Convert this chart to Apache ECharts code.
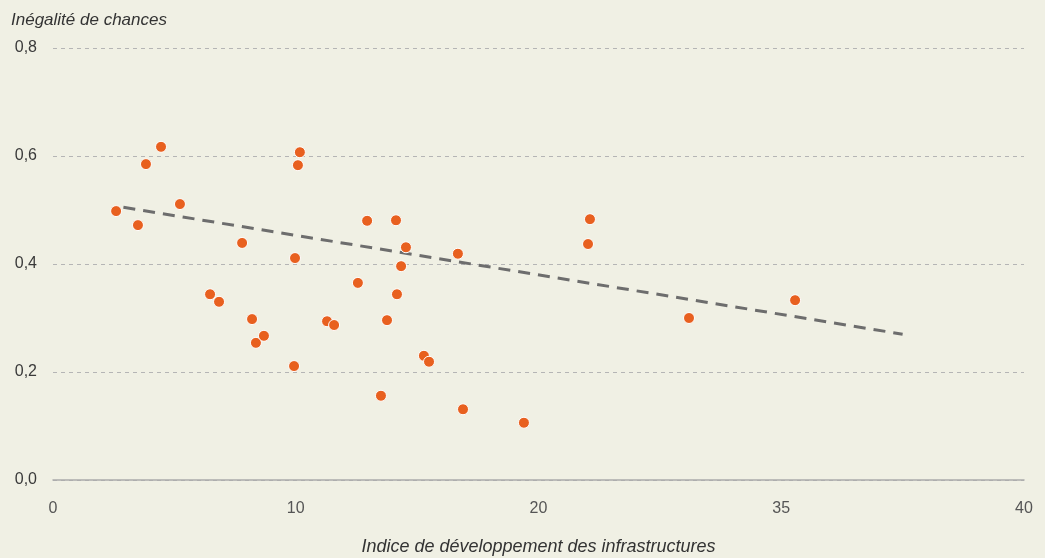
<!DOCTYPE html>
<html>
<head>
<meta charset="utf-8">
<script src="https://cdn.jsdelivr.net/npm/echarts@6/dist/echarts.min.js"></script>
<style>
  html, body { margin: 0; padding: 0; background: #f0f0e4; }
  #chart { width: 1045px; height: 558px; }
</style>
</head>
<body>
<div id="chart"></div>
<script>
// indice de développement des infrastructures
var infraIndex = [2.6, 3.5, 3.83, 4.45, 5.23, 6.47, 6.84, 7.79, 8.2, 8.36, 8.69, 9.93, 9.97, 10.09, 10.17,
  11.29, 11.58, 12.56, 12.94, 13.51, 13.76, 14.13, 14.17, 14.34, 14.54, 15.28, 15.49, 16.68, 16.89,
  19.4, 22.04, 22.12, 26.2, 30.57]
// inégalité de chances
var inequality = [0.498, 0.472, 0.585, 0.617, 0.511, 0.344, 0.330, 0.439, 0.298, 0.254, 0.267, 0.211, 0.411, 0.583, 0.607,
  0.294, 0.287, 0.365, 0.480, 0.156, 0.296, 0.481, 0.344, 0.396, 0.431, 0.230, 0.219, 0.419, 0.131,
  0.106, 0.437, 0.483, 0.300, 0.333]
// droite de tendance
var trendX = [2.9, 35.0]
var trendY = [0.505, 0.270]
// étiquettes de l'axe horizontal (telles qu'imprimées)
var xTickLabels = ['0', '10', '20', '35', '40']

var chart = echarts.init(document.getElementById('chart'))
var points = infraIndex.map(function (x, i) { return [x, inequality[i]] })
var trend = trendX.map(function (x, i) { return [x, trendY[i]] })

chart.setOption({
  backgroundColor: '#f0f0e4',
  animation: false,
  textStyle: { fontFamily: 'Liberation Sans' },
  grid: { left: 53, right: 21, top: 48, bottom: 78, containLabel: false, outerBoundsMode: 'none' },
  graphic: [{
    type: 'text',
    left: 11,
    top: 12,
    style: {
      text: 'Inégalité de chances',
      fontSize: 17,
      fontStyle: 'italic',
      fontFamily: 'Liberation Sans',
      fill: '#333'
    }
  }],
  xAxis: {
    type: 'value',
    min: 0,
    max: 40,
    interval: 10,
    name: 'Indice de développement des infrastructures',
    nameLocation: 'middle',
    nameGap: 58,
    nameTextStyle: { fontSize: 18, fontStyle: 'italic', color: '#333' },
    axisLine: { show: true, lineStyle: { color: '#aaa', width: 1.5 } },
    axisTick: { show: false },
    splitLine: { show: false },
    axisLabel: {
      margin: 21,
      fontSize: 16,
      color: '#555',
      formatter: function (v) { return xTickLabels[Math.round(v / 10)] }
    }
  },
  yAxis: {
    type: 'value',
    min: 0,
    max: 0.8,
    interval: 0.2,
    axisLine: { show: false },
    axisTick: { show: false },
    splitLine: { lineStyle: { color: '#b5b5b5', type: [4, 4], width: 1 } },
    axisLabel: {
      margin: 16,
      fontSize: 16,
      color: '#3a3a3a',
      formatter: function (v) { return v.toFixed(1).replace('.', ',') }
    }
  },
  series: [{
    type: 'line',
    data: trend,
    symbol: 'none',
    z: 1,
    lineStyle: { color: '#6d6d6d', width: 3, type: [12, 8] }
  }, {
    type: 'scatter',
    data: points,
    symbolSize: 11,
    z: 2,
    itemStyle: { color: '#e8601f', opacity: 1, borderColor: '#fff', borderWidth: 1 }
  }]
})
</script>
</body>
</html>
